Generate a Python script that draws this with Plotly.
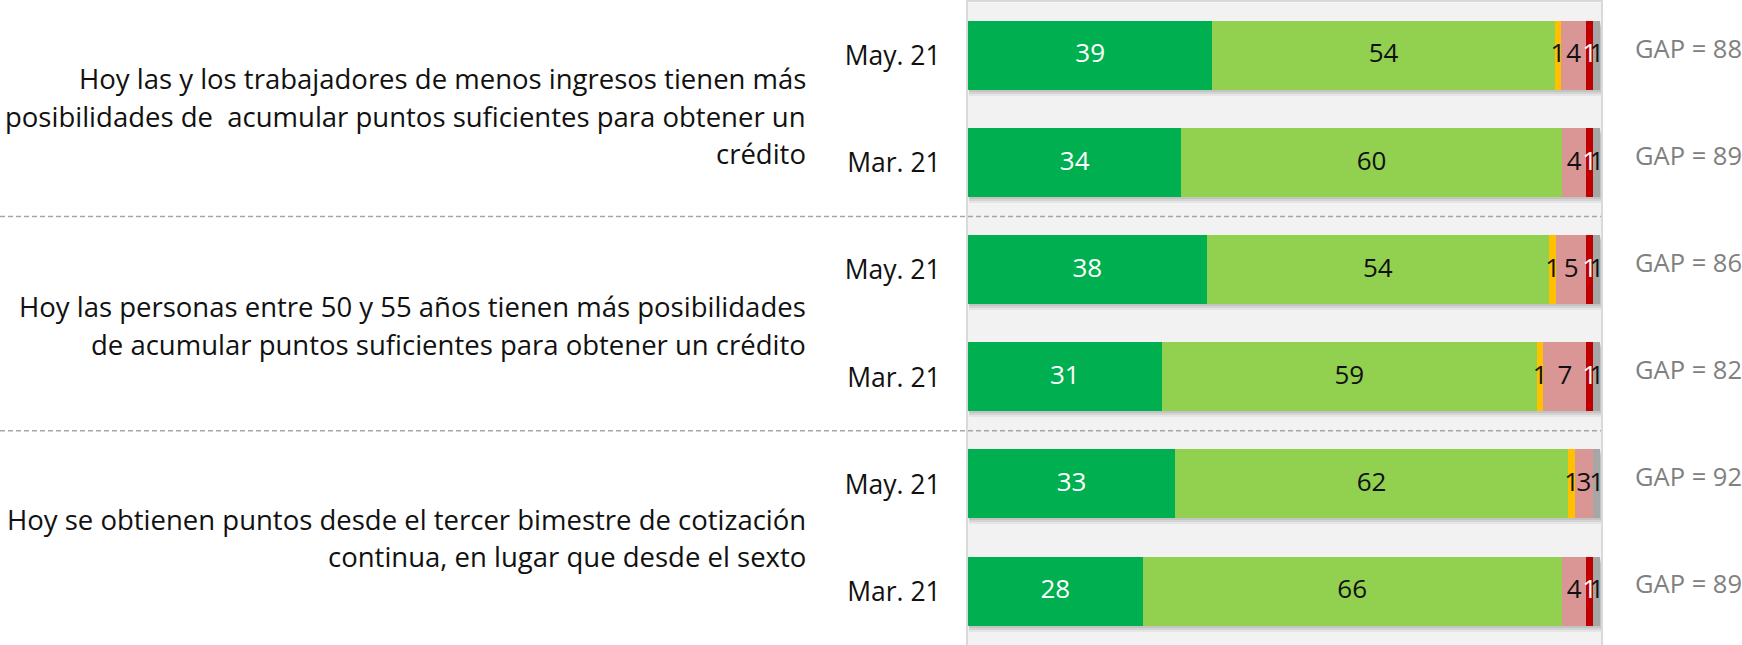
import numpy as np
import plotly.graph_objects as go

# ---------------- data ----------------
periods = ["May. 21", "Mar. 21", "May. 21", "Mar. 21", "May. 21", "Mar. 21"]
questions = [
    ["Hoy las y los trabajadores de menos ingresos tienen más",
     "posibilidades de  acumular puntos suficientes para obtener un",
     "crédito"],
    ["Hoy las personas entre 50 y 55 años tienen más posibilidades",
     "de acumular puntos suficientes para obtener un crédito"],
    ["Hoy se obtienen puntos desde el tercer bimestre de cotización",
     "continua, en lugar que desde el sexto"],
]
series_names = ["Muy de acuerdo", "De acuerdo", "Ni de acuerdo ni en desacuerdo",
                "En desacuerdo", "Muy en desacuerdo", "NS/NR"]
muy_acuerdo = [38.6, 33.7, 37.7, 30.6, 32.7, 27.6]
acuerdo = [54.1, 60.1, 54.1, 59.3, 62.1, 66.2]
ni_ni = [1.0, 0.0, 1.1, 1.0, 1.1, 0.0]
desacuerdo = [4.0, 3.9, 4.8, 6.8, 2.8, 3.9]
muy_desacuerdo = [1.0, 1.0, 1.0, 1.0, 0.0, 1.0]
ns_nr = [1.2, 1.2, 1.2, 1.2, 1.2, 1.2]
gap = [88, 89, 86, 82, 92, 89]

# ---------------- style ----------------
colors = ["#00B050", "#92D050", "#FFC000", "#DA9694", "#C00000", "#A6A6A6"]
label_colors = ["white", "#111111", "#111111", "#111111", "white", "#111111"]
FONT = "Open Sans"
W, H = 1742, 645
x0_px, x1_px = 968, 1601

series = [muy_acuerdo, acuerdo, ni_ni, desacuerdo, muy_desacuerdo, ns_nr]
vals = np.array(series, dtype=float)
bases = np.vstack([np.zeros(vals.shape[1]), np.cumsum(vals, axis=0)[:-1]])
totals = vals.sum(axis=0)
rows = np.arange(len(periods))
bw = 0.644
unit_px = 643 / 6.0

fig = go.Figure()

# soft shadow under each bar
for dy, alpha in [(6, 0.05), (4, 0.07), (2, 0.08)]:
    fig.add_trace(go.Bar(
        y=rows, x=totals, base=[0.2] * len(rows), orientation="h",
        width=bw, offset=-bw / 2 + dy / unit_px,
        marker=dict(color=f"rgba(0,0,0,{alpha})", line=dict(width=0)),
        hoverinfo="skip", showlegend=False))

for i, name in enumerate(series_names):
    fig.add_trace(go.Bar(
        y=rows, x=vals[i], base=bases[i], orientation="h", name=name,
        width=bw, marker=dict(color=colors[i], line=dict(width=0)),
        showlegend=False))

# segment labels (drawn on top of all bars)
lx, ly, lt, lc = [], [], [], []
for i in range(len(series_names)):
    for r in rows:
        v = vals[i][r]
        if v <= 0:
            continue
        lx.append(bases[i][r] + v / 2)
        ly.append(r)
        lt.append(str(int(round(v))))
        lc.append(label_colors[i])
fig.add_trace(go.Scatter(
    x=lx, y=ly, mode="text", text=lt, textposition="middle center",
    textfont=dict(family=FONT, size=26, color=lc),
    hoverinfo="skip", showlegend=False))

annotations = []
# GAP labels
for r, g in zip(rows, gap):
    annotations.append(dict(
        x=1633 / W, xref="paper", y=r, yref="y", xanchor="left", yanchor="middle",
        yshift=8, text=f"GAP = {g}", showarrow=False,
        font=dict(family=FONT, size=25.5, color="#808080")))

# question texts
line_sp = 37.5
q_shift = [-7, -2, 0]
for qi, lines in enumerate(questions):
    n = len(lines)
    for li, line in enumerate(lines):
        annotations.append(dict(
            x=808 / W, xref="paper", y=2 * qi + 0.5, yref="y",
            xanchor="right", yanchor="middle",
            yshift=-(li - (n - 1) / 2) * line_sp + q_shift[qi],
            text=line, showarrow=False,
            font=dict(family=FONT, size=27.5, color="#111111")))

shapes = []
for yy in [1.5, 3.5]:
    shapes.append(dict(type="line", xref="paper", x0=0, x1=x1_px / W,
                       yref="y", y0=yy, y1=yy, layer="above",
                       line=dict(color="#a6a6a6", width=1.5, dash="5px,3px")))

fig.update_layout(
    width=W, height=H, margin=dict(l=0, r=0, t=0, b=0),
    paper_bgcolor="white", plot_bgcolor="#f2f2f2",
    barmode="overlay", bargap=0,
    xaxis=dict(domain=[x0_px / W, x1_px / W], range=[0, 100], showgrid=False,
               zeroline=False, showticklabels=False, showline=True, mirror=True,
               linecolor="#d9d9d9", linewidth=2, fixedrange=True),
    yaxis=dict(domain=[0, 0.9963], range=[5.5, -0.5], tickvals=list(rows),
               ticktext=periods, showgrid=False, zeroline=False, ticks="",
               ticklabelstandoff=20, showline=True, mirror=True,
               linecolor="#d9d9d9", linewidth=2,
               tickfont=dict(family=FONT, size=26.5, color="#111111")),
    annotations=annotations, shapes=shapes,
    font=dict(family=FONT),
)

fig.write_html("out.html", config={"displayModeBar": False},
               post_script="document.body.style.margin='0px';document.body.style.overflow='hidden';")
